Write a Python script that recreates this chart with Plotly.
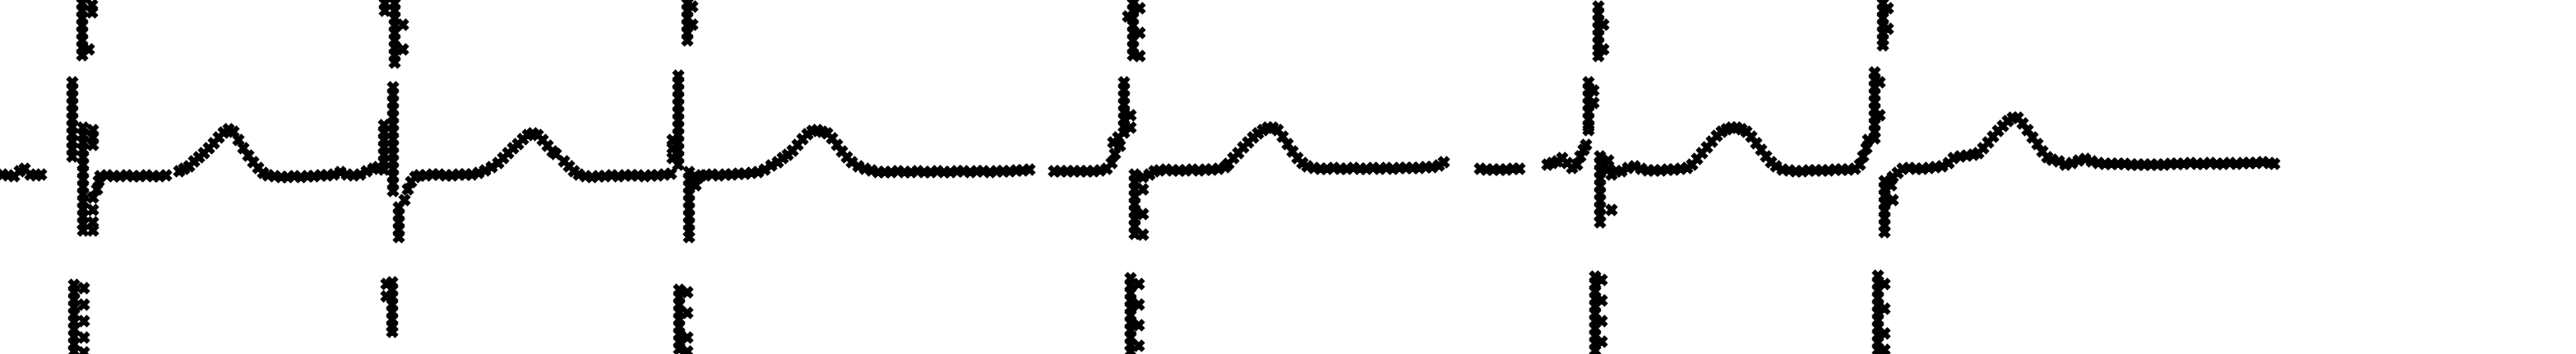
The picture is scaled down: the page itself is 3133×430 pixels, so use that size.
import plotly.graph_objects as go

# ECG trace: (sample, amplitude) with baseline at 0.
# gaps in the recording are simply left out.
lead_in = [(3, 1), (10, 0), (17, -1), (24, 5), (30, 8), (37, 1), (44, 0), (50, 1)]

beat1 = [
    # R top (clipped)
    (100, 209), (100, 200), (100, 191), (100, 182), (100, 173), (100, 164), (100, 155), (100, 146),
    (112, 207), (112, 198), (108, 153),
    # R mid / S
    (88, 113), (88, 104), (88, 95), (88, 86), (88, 77), (88, 68), (88, 59), (88, 50), (88, 41), (88, 32), (88, 23),
    (101, 58), (101, 49), (101, 40), (101, 31), (101, 22), (101, 13), (101, 4), (101, -5), (101, -14),
    (101, -23), (101, -32), (101, -41), (101, -50), (101, -59), (101, -67),
    (113, 55), (113, 46), (113, 37), (113, -27), (113, -42), (113, -57), (113, -67),
    (118, -17), (120, -7),
    # wrapped part at the bottom
    (90, -133), (90, -142), (90, -151), (90, -160), (90, -169), (90, -178), (90, -187), (90, -196), (90, -205), (90, -214),
    (102, -137), (102, -157), (102, -177), (102, -197), (102, -215),
    # ST + T
    (122, -1), (130, 0), (138, -1), (146, -1), (154, 0), (162, -1), (170, -1), (178, 0), (186, -1), (194, -1), (202, 0),
    (218, 5), (224, 8), (230, 11), (236, 17), (242, 22), (248, 27), (254, 33), (260, 39), (266, 46), (272, 52),
    (278, 56), (284, 53), (290, 43), (296, 33), (302, 24), (308, 16), (314, 9), (320, 3), (326, 0),
    (334, -1), (342, -2), (350, -2), (358, -1), (366, -2), (374, -1), (382, -1), (390, 0), (398, 0), (406, 1),
    (414, 4), (422, 1), (430, 0), (438, 1), (446, 5), (454, 8), (460, 10),
]

beat2 = [
    (480, 209), (480, 200), (480, 191), (480, 182), (480, 173), (480, 164), (480, 155), (480, 146), (480, 137),
    (468, 209), (468, 200), (490, 183), (490, 153),
    (478, 107), (478, 98), (478, 89), (478, 80), (478, 71), (478, 62), (478, 53), (478, 44), (478, 35), (478, 26),
    (478, 17), (478, 8), (478, -1), (478, -10), (478, -19),
    (467, 61), (467, 52), (467, 43), (467, 34), (467, 25), (467, 16), (467, 7),
    (485, -39), (485, -48), (485, -57), (485, -66), (485, -75),
    (492, -30), (496, -17), (500, -8), (505, -2),
    (477, -130), (477, -139), (477, -148), (477, -157), (477, -166), (477, -175), (477, -184), (477, -190),
    (470, -132), (470, -147),
    (510, 0), (518, 0), (526, 1), (534, 1), (542, 0), (550, 0), (558, 1), (566, 1), (574, 1), (582, 3), (590, 6), (598, 10),
    (606, 15), (612, 21), (618, 27), (624, 33), (630, 38), (636, 44), (642, 49), (648, 51), (654, 49), (660, 43),
    (666, 36), (672, 29), (676, 26),
    (686, 17), (692, 11), (698, 5), (704, 1), (712, -1), (720, -2), (728, -1), (736, -1), (744, 0), (752, -1),
    (760, 0), (768, 0), (776, 0), (784, -1), (792, 0), (800, 0), (808, 1), (816, 2),
]

beat3 = [
    (836, 209), (836, 200), (836, 191), (836, 182), (836, 173), (836, 164), (842, 205), (842, 183),
    (825, 121), (825, 112), (825, 103), (825, 94), (825, 85), (825, 76), (825, 67), (825, 58), (825, 49),
    (825, 40), (825, 31), (825, 22), (825, 13), (818, 43), (818, 33), (818, 21),
    (838, 4), (838, -5), (838, -14), (838, -23), (838, -32), (838, -41), (838, -50), (838, -59), (838, -68), (838, -75),
    (846, -2), (846, -12), (849, -3), (853, 0),
    (826, -139), (826, -148), (826, -157), (826, -166), (826, -175), (826, -184), (826, -193), (826, -202), (826, -211),
    (836, -142), (836, -167), (836, -197), (836, -214),
    (858, 0), (866, 1), (874, 0), (882, 1), (890, 1), (898, 2), (906, 2), (914, 3), (922, 4), (930, 7), (938, 12),
    (946, 16), (952, 21), (958, 25), (964, 30), (970, 37), (976, 44), (982, 50), (988, 54), (994, 55), (1000, 53),
    (1006, 51), (1012, 45), (1018, 37), (1024, 29), (1030, 22), (1036, 16), (1044, 11), (1052, 8), (1060, 6),
    (1068, 4), (1076, 4), (1084, 4), (1092, 5), (1100, 4), (1108, 4), (1116, 5), (1124, 4), (1132, 4), (1140, 5),
    (1148, 4), (1156, 4), (1164, 5), (1172, 5), (1180, 4), (1188, 5), (1196, 5), (1204, 4), (1212, 5), (1220, 5),
    (1228, 5), (1236, 6), (1244, 6), (1252, 7),
    (1282, 5), (1290, 5), (1298, 5), (1306, 5), (1314, 5), (1322, 5), (1330, 5), (1338, 6), (1346, 8),
    (1352, 15), (1356, 26), (1354, 40), (1360, 46), (1362, 36),
]

beat4 = [
    (1378, 209), (1378, 200), (1378, 191), (1378, 182), (1378, 173), (1378, 164), (1378, 155), (1378, 146),
    (1386, 203), (1386, 173), (1372, 193), (1386, 145),
    (1367, 113), (1367, 104), (1367, 95), (1367, 86), (1367, 77), (1367, 68), (1367, 59), (1367, 52), (1375, 73), (1375, 58),
    (1380, 1), (1380, -8), (1380, -17), (1380, -26), (1380, -35), (1380, -44), (1380, -53), (1380, -62), (1380, -71),
    (1390, -2), (1390, -17), (1390, -47), (1390, -72), (1398, 1), (1404, 5),
    (1375, -125), (1375, -134), (1375, -143), (1375, -152), (1375, -161), (1375, -170), (1375, -179), (1375, -188),
    (1375, -197), (1375, -206), (1375, -214), (1385, -132), (1385, -157), (1385, -182), (1385, -207),
    (1410, 6), (1418, 7), (1426, 6), (1434, 6), (1442, 6), (1450, 7), (1458, 6), (1466, 7), (1474, 7), (1482, 8), (1490, 10),
    (1494, 14), (1500, 21), (1506, 27), (1512, 34), (1518, 40), (1524, 46), (1530, 51), (1536, 55), (1542, 58),
    (1548, 58), (1554, 55), (1560, 47), (1566, 38), (1572, 29), (1578, 21), (1584, 15), (1590, 11),
    (1598, 9), (1606, 8), (1614, 8), (1622, 9), (1630, 8), (1638, 8), (1646, 9), (1654, 8), (1662, 8), (1670, 9),
    (1678, 8), (1686, 9), (1694, 8), (1702, 9), (1710, 9), (1718, 9), (1726, 9), (1734, 10), (1742, 10), (1750, 12), (1756, 16),
    (1800, 8), (1808, 7), (1816, 7), (1824, 7), (1832, 7), (1840, 8), (1848, 8),
    (1882, 13), (1888, 15), (1894, 17), (1900, 21), (1906, 15), (1912, 9), (1918, 13), (1922, 23), (1926, 31), (1929, 37),
]

beat5 = [
    (1944, 205), (1944, 196), (1944, 187), (1944, 178), (1944, 169), (1944, 160), (1944, 151), (1944, 145),
    (1950, 183), (1950, 153),
    (1932, 113), (1932, 104), (1932, 95), (1932, 86), (1932, 77), (1932, 68), (1932, 59), (1932, 55), (1938, 103), (1938, 88),
    (1946, 23), (1946, 14), (1946, 5), (1946, -4), (1946, -13), (1946, -22), (1946, -31), (1946, -40), (1946, -49), (1946, -57),
    (1956, 18), (1956, 8), (1960, -42), (1960, 1), (1966, 5),
    (1940, -123), (1940, -132), (1940, -141), (1940, -150), (1940, -159), (1940, -168), (1940, -177), (1940, -186),
    (1940, -195), (1940, -204), (1940, -213), (1948, -127), (1948, -152), (1948, -177), (1948, -202),
    (1972, 5), (1980, 9), (1988, 11), (1996, 8), (2004, 6), (2012, 6), (2020, 6), (2028, 7), (2036, 7), (2044, 8),
    (2052, 9), (2058, 13),
    (2064, 20), (2070, 27), (2076, 34), (2082, 41), (2088, 48), (2094, 53), (2100, 56), (2106, 58), (2112, 58),
    (2118, 56), (2124, 53), (2130, 47), (2136, 39), (2142, 31), (2148, 23), (2154, 16), (2160, 11),
    (2168, 7), (2176, 6), (2184, 5), (2192, 5), (2200, 6), (2208, 6), (2216, 6), (2224, 6), (2232, 7), (2240, 7),
    (2248, 7), (2256, 8),
    (2262, 13), (2266, 23), (2270, 33), (2272, 43),
]

beat6 = [
    (2290, 209), (2290, 200), (2290, 191), (2290, 182), (2290, 173), (2290, 164), (2290, 158), (2296, 203), (2296, 178),
    (2280, 125), (2280, 116), (2280, 107), (2280, 98), (2280, 89), (2280, 80), (2280, 71), (2280, 62), (2280, 53),
    (2280, 45), (2286, 113), (2286, 73),
    (2292, -7), (2292, -16), (2292, -25), (2292, -34), (2292, -43), (2292, -52), (2292, -61), (2292, -69),
    (2300, -12), (2302, -30), (2302, -2), (2308, 3),
    (2284, -122), (2284, -131), (2284, -140), (2284, -149), (2284, -158), (2284, -167), (2284, -176), (2284, -185),
    (2284, -194), (2284, -203), (2284, -212), (2292, -132), (2292, -162), (2292, -192), (2292, -212),
    (2314, 8), (2322, 9), (2330, 8), (2338, 8), (2346, 9), (2354, 10), (2362, 11), (2370, 15),
    (2376, 21), (2384, 23), (2392, 24), (2400, 25), (2406, 27), (2412, 33), (2418, 40), (2424, 47), (2430, 54),
    (2436, 60), (2442, 66), (2448, 70), (2454, 70), (2460, 63), (2466, 55), (2472, 46), (2478, 38), (2484, 29),
    (2490, 22), (2496, 19), (2504, 17), (2512, 13), (2520, 15), (2528, 18), (2536, 20), (2544, 17),
    (2552, 15), (2560, 14), (2568, 14), (2576, 14), (2584, 14), (2592, 13), (2600, 13), (2608, 13), (2616, 13),
    (2624, 13), (2632, 13), (2640, 14), (2648, 14), (2656, 14), (2664, 15), (2672, 14), (2680, 14), (2688, 15),
    (2696, 14), (2704, 14), (2712, 15), (2720, 14), (2728, 15), (2736, 15), (2744, 15), (2752, 16), (2760, 15), (2766, 14),
]

segments = [lead_in, beat1, beat2, beat3, beat4, beat5, beat6]

fig = go.Figure()
for seg in segments:
    t = [p[0] for p in seg]
    v = [p[1] for p in seg]
    fig.add_trace(go.Scatter(
        x=t, y=v, mode='markers',
        marker=dict(symbol='x', size=12, color='black', line=dict(width=1.2, color='black')),
        showlegend=False, hoverinfo='skip'
    ))

fig.update_xaxes(range=[0, 3133], visible=False)
fig.update_yaxes(range=[-217, 213], visible=False)
fig.update_layout(
    width=3133, height=430,
    margin=dict(l=0, r=0, t=0, b=0),
    paper_bgcolor='white', plot_bgcolor='white'
)

fig.write_html("out.html", config={'displayModeBar': False},
               post_script="document.body.style.margin='0';")
